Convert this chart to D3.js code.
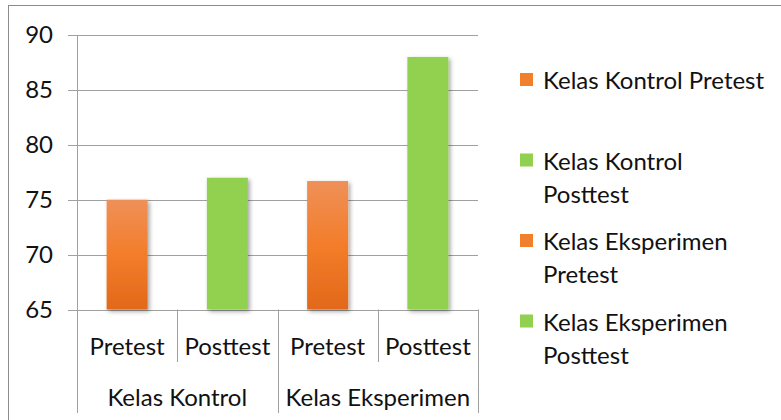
<!DOCTYPE html>
<html>
<head>
<meta charset="utf-8">
<style>
  body { margin: 0; background: #fff; }
  text { font-family: Lato, "Open Sans", sans-serif; fill: #111; }
</style>
</head>
<body>
<div id="container"></div>
<script src="https://cdn.jsdelivr.net/npm/d3@7"></script>
<script>

// data
const groups = ["Kelas Kontrol", "Kelas Eksperimen"];
const tests = ["Pretest", "Posttest"];
const values = [75, 77, 76.7, 88];
const seriesNames = ["Kelas Kontrol Pretest", "Kelas Kontrol Posttest", "Kelas Eksperimen Pretest", "Kelas Eksperimen Posttest"];
const yTicks = [65, 70, 75, 80, 85, 90];

const width = 781, height = 420;
const fontSize = 24;

const svg = d3.select("#container").append("svg")
    .attr("width", width)
    .attr("height", height);

// frame of the chart area
svg.append("rect")
    .attr("x", 8.5).attr("y", 5.5)
    .attr("width", 800).attr("height", 440)
    .attr("fill", "none")
    .attr("stroke", "#8c8c8c");

const defs = svg.append("defs");
const grad = defs.append("linearGradient")
    .attr("id", "orange").attr("x1", 0).attr("y1", 0).attr("x2", 0).attr("y2", 1);
grad.append("stop").attr("offset", "0%").attr("stop-color", "#ef9058");
grad.append("stop").attr("offset", "50%").attr("stop-color", "#f37d2a");
grad.append("stop").attr("offset", "100%").attr("stop-color", "#e2681a");

defs.append("filter").attr("id", "shadow")
    .attr("x", "-20%").attr("y", "-10%").attr("width", "150%").attr("height", "130%")
  .append("feDropShadow")
    .attr("dx", 2).attr("dy", 2).attr("stdDeviation", 2)
    .attr("flood-color", "#000").attr("flood-opacity", 0.35);

const plotL = 77, plotR = 478, plotT = 35, plotB = 309.5;

const cats = d3.cross(groups, tests).map(d => d.join("|"));
const x = d3.scaleBand().domain(cats).range([plotL, plotR])
    .paddingInner(0.591).paddingOuter(0.2955);
const xg = d3.scaleBand().domain(groups).range([plotL, plotR]);
const y = d3.scaleLinear().domain([65, 90]).range([plotB, plotT]);

const color = (i) => i % 2 === 0 ? "url(#orange)" : "#92d050";
const swatch = (i) => i % 2 === 0 ? "#f07f2e" : "#92d050";

// gridlines
svg.append("g").selectAll("line").data(yTicks).join("line")
    .attr("x1", plotL - 9).attr("x2", plotR)
    .attr("y1", d => Math.round(y(d)) + 0.5).attr("y2", d => Math.round(y(d)) + 0.5)
    .attr("stroke", "#a0a0a0");

// y axis
const yAxis = svg.append("g")
    .attr("transform", `translate(${plotL},0)`)
    .call(d3.axisLeft(y).tickValues(yTicks).tickSize(9).tickPadding(15));
yAxis.select(".domain").remove();
yAxis.selectAll(".tick line").remove();
yAxis.selectAll("text")
    .style("font-family", "Lato, sans-serif")
    .style("font-size", fontSize + "px")
    .attr("fill", "#111");

// category dividers
const step = x.step();
const minor = d3.range(0, cats.length + 1).map(i => ({ xv: plotL + i * step, major: i % 2 === 0 }));
svg.append("g").selectAll("line").data(minor).join("line")
    .attr("x1", d => Math.round(d.xv) + 0.5).attr("x2", d => Math.round(d.xv) + 0.5)
    .attr("y1", d => d.xv === plotL ? plotT : plotB)
    .attr("y2", d => d.major ? 413 : 362)
    .attr("stroke", "#a0a0a0");

// bars
svg.append("g").selectAll("rect").data(values).join("rect")
    .attr("x", (d, i) => x(cats[i]))
    .attr("width", x.bandwidth())
    .attr("y", d => y(d))
    .attr("height", d => y(65) - y(d))
    .attr("fill", (d, i) => color(i))
    .attr("filter", "url(#shadow)");

// category labels
svg.append("g").selectAll("text").data(cats).join("text")
    .attr("x", d => x(d) + x.bandwidth() / 2)
    .attr("y", 345)
    .attr("text-anchor", "middle")
    .attr("dominant-baseline", "central")
    .style("font-size", fontSize + "px")
    .text(d => d.split("|")[1]);

svg.append("g").selectAll("text").data(groups).join("text")
    .attr("x", d => xg(d) + xg.bandwidth() / 2)
    .attr("y", 396)
    .attr("text-anchor", "middle")
    .attr("dominant-baseline", "central")
    .style("font-size", fontSize + "px")
    .text(d => d);

// legend
const legend = svg.append("g").attr("transform", "translate(520,0)");
const maxW = 226;
seriesNames.forEach((name, i) => {
  const cy = 79 + i * 80.5;
  legend.append("rect")
    .attr("x", 0).attr("y", cy - 6)
    .attr("width", 13).attr("height", 13)
    .attr("fill", swatch(i));
  const t = legend.append("text")
    .attr("x", 23).attr("y", cy)
    .attr("dominant-baseline", "central")
    .style("font-size", fontSize + "px");
  // simple word wrap
  const words = name.split(" ");
  let line = [], lines = [];
  words.forEach(w => {
    t.text([...line, w].join(" "));
    if (t.node().getComputedTextLength() > maxW && line.length) {
      lines.push(line.join(" "));
      line = [w];
    } else line.push(w);
  });
  lines.push(line.join(" "));
  t.text(null);
  lines.forEach((l, j) => {
    t.append("tspan").attr("x", 23).attr("y", cy + j * 33).text(l);
  });
});

</script>
</body>
</html>
